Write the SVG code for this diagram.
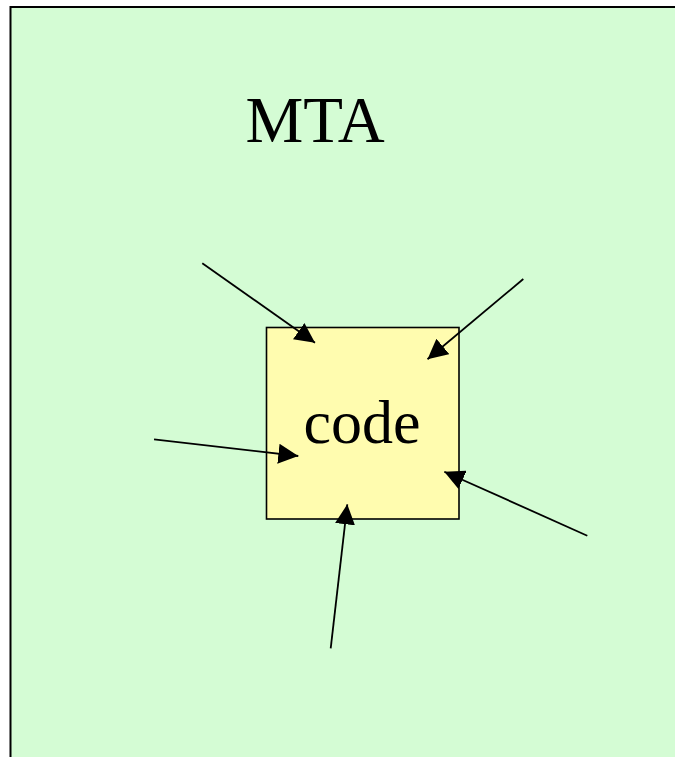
<svg xmlns="http://www.w3.org/2000/svg" width="675" height="757" viewBox="0 0 675 757">
<style>
.t{font-family:"Liberation Serif","Times New Roman",serif;fill:#000;text-anchor:middle}
.c{stroke:#000;stroke-width:1.8;fill:none}
</style>
<defs>
<marker id="ah" markerUnits="userSpaceOnUse" markerWidth="20" markerHeight="20" refX="20" refY="10" orient="auto" viewBox="0 0 20 20">
<path d="M0,0 L20,10 L0,20 z" fill="#000"/>
</marker>
</defs>
<rect width="675" height="757" fill="#fff"/>
<g id="mta">
<rect x="10.5" y="7" width="680" height="770" fill="#D4FCD4" stroke="#000" stroke-width="2"/>
<text class="t" x="315" y="142" font-size="65">MTA</text>
</g>
<g id="code">
<rect x="266.5" y="327.5" width="192.5" height="191.5" fill="#FFFCAF" stroke="#000" stroke-width="1.6"/>
<text class="t" x="362" y="443" font-size="62">code</text>
</g>
<g id="connectors">
<line class="c" x1="202.3" y1="263.3" x2="315" y2="342.7" marker-end="url(#ah)"/>
<line class="c" x1="523.3" y1="279" x2="427.5" y2="359.3" marker-end="url(#ah)"/>
<line class="c" x1="154" y1="439.3" x2="298.3" y2="456" marker-end="url(#ah)"/>
<line class="c" x1="587.3" y1="535.7" x2="444.3" y2="471.7" marker-end="url(#ah)"/>
<line class="c" x1="330.7" y1="648.3" x2="347.3" y2="504.3" marker-end="url(#ah)"/>
</g>
</svg>
